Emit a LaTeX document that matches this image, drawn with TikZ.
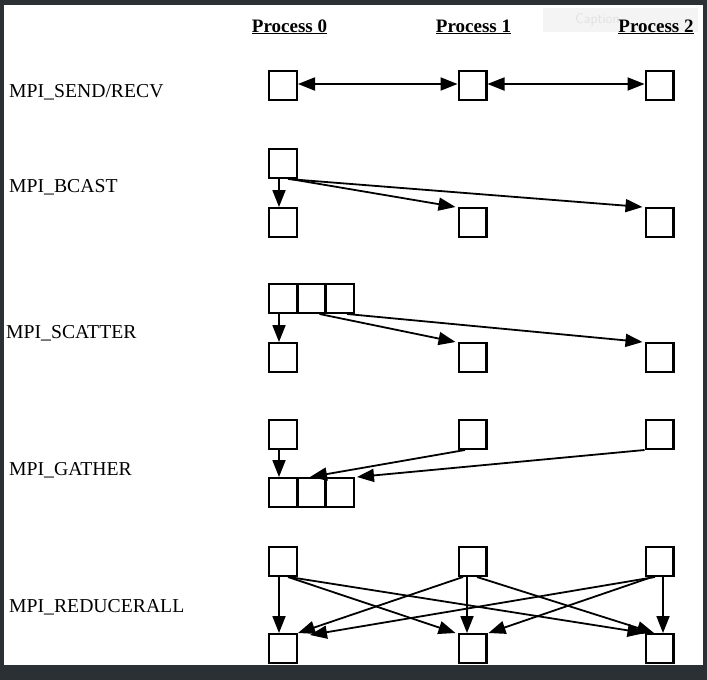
\documentclass[tikz,border=0pt]{standalone}
\usepackage{fontspec}
\setmainfont{Liberation Serif}
\usetikzlibrary{arrows.meta,calc}
\definecolor{framedark}{HTML}{2B3035}
\definecolor{captbg}{HTML}{F4F4F4}
\definecolor{captfg}{HTML}{E2E2E2}
\begin{document}
\begin{tikzpicture}[x=1pt,y=-1pt,
  cell/.style={draw, line width=2.4pt, minimum width=27.6pt, minimum height=28.6pt, inner sep=0pt},
  tip/.tip={Triangle[length=17pt 0 0,width=13pt 0 0]},
  arr/.style={line width=1.8pt, -tip},
  darr/.style={line width=1.8pt, tip-tip},
  lab/.style={anchor=base west, inner sep=0pt, font=\fontsize{19.7}{20}\selectfont},
  hdr/.style={anchor=base, inner sep=0pt, font=\bfseries\fontsize{19}{20}\selectfont}]
\useasboundingbox (0,0) rectangle (707,680);
\fill[framedark] (0,0) rectangle (707,680);
\fill[white] (4,5) rectangle (703,665);
% faint overlay
\fill[captbg] (543,8) rectangle (698,32);
\node[anchor=west, inner sep=0pt, text=captfg, font=\sffamily\fontsize{14}{14}\selectfont] (capt) at (575,20) {Caption};
% headers
\node[hdr] (p0) at (289.5,32) {\underline{Process 0}};
\node[hdr] (p1) at (473.5,32) {\underline{Process 1}};
\node[hdr] (p2) at (656,32) {\underline{Process 2}};
% left labels
\node[lab] (l1) at (9,97) {MPI\_SEND/RECV};
\node[lab] (l2) at (9,192) {MPI\_BCAST};
\node[lab] (l3) at (6,338) {MPI\_SCATTER};
\node[lab] (l4) at (9,475) {MPI\_GATHER};
\node[lab] (l5) at (9,612) {MPI\_REDUCERALL};
% row 1
\node[cell] (a0) at (283,85.5) {};
\node[cell] (a1) at (472.5,85.5) {};
\node[cell] (a2) at (659.5,85.5) {};
\draw[darr] ([yshift=1.5pt]a0.east) -- ([yshift=1.5pt]a1.west);
\draw[darr] ([yshift=1.5pt]a1.east) -- ([yshift=1.5pt]a2.west);
% row 2 bcast
\node[cell] (bt0) at (283,163.5) {};
\node[cell] (bb0) at (283,222.5) {};
\node[cell] (bb1) at (472.5,222.5) {};
\node[cell] (bb2) at (659.5,222.5) {};
\draw[arr] ([xshift=-4pt]bt0.south) -- ([xshift=-4pt]bb0.north);
\draw[arr] ([xshift=7pt]bt0.south) -- ([xshift=-2pt]bb1.north west);
\draw[arr] ([xshift=5pt]bt0.south) -- ([xshift=-2pt]bb2.north west);
% row 3 scatter
\node[cell] (st0) at (283,298.5) {};
\node[cell] (st1) at (311.5,298.5) {};
\node[cell] (st2) at (340,298.5) {};
\node[cell] (sb0) at (283,357.5) {};
\node[cell] (sb1) at (472.5,357.5) {};
\node[cell] (sb2) at (659.5,357.5) {};
\draw[arr] ([xshift=-4pt]st0.south) -- ([xshift=-4pt]sb0.north);
\draw[arr] ([xshift=8pt]st1.south) -- ([xshift=-2pt]sb1.north west);
\draw[arr] ([xshift=7pt]st2.south) -- ([xshift=-2pt]sb2.north west);
% row 4 gather
\node[cell] (gt0) at (283,434.5) {};
\node[cell] (gt1) at (472.5,434.5) {};
\node[cell] (gt2) at (659.5,434.5) {};
\node[cell] (gb0) at (283,492.5) {};
\node[cell] (gb1) at (311.5,492.5) {};
\node[cell] (gb2) at (340,492.5) {};
\draw[arr] ([xshift=-4pt]gt0.south) -- ([xshift=-4pt]gb0.north);
\draw[arr] ([xshift=-7.5pt]gt1.south) -- ([xshift=-1.5pt]gb1.north);
\draw[arr] (gt2.south west) -- ([xshift=2pt]gb2.north east);
% row 5 reduce
\node[cell] (rt0) at (283,561.5) {};
\node[cell] (rt1) at (472.5,561.5) {};
\node[cell] (rt2) at (659.5,561.5) {};
\node[cell] (rb0) at (283,648.5) {};
\node[cell] (rb1) at (472.5,648.5) {};
\node[cell] (rb2) at (659.5,648.5) {};
\draw[arr] ([xshift=-4pt]rt0.south) -- ([xshift=-4pt]rb0.north);
\draw[arr] ([xshift=5pt]rt0.south) -- ([xshift=-2pt]rb1.north west);
\draw[arr] ([xshift=6pt]rt0.south) -- (rb2.north west);
\draw[arr] ([xshift=-5.5pt]rt1.south) -- ([xshift=-5.5pt]rb1.north);
\draw[arr] ([xshift=-9.5pt]rt1.south) -- (rb0.north east);
\draw[arr] ([xshift=4.5pt]rt1.south) -- ([xshift=-5.5pt]rb2.north);
\draw[arr] ([xshift=3.5pt]rt2.south) -- ([xshift=3.5pt]rb2.north);
\draw[arr] ([xshift=-4.5pt]rt2.south) -- ([xshift=12pt,yshift=-2pt]rb0.north east);
\draw[arr] ([xshift=-7.5pt]rt2.south) -- ([xshift=1pt]rb1.north east);
\end{tikzpicture}
\end{document}
